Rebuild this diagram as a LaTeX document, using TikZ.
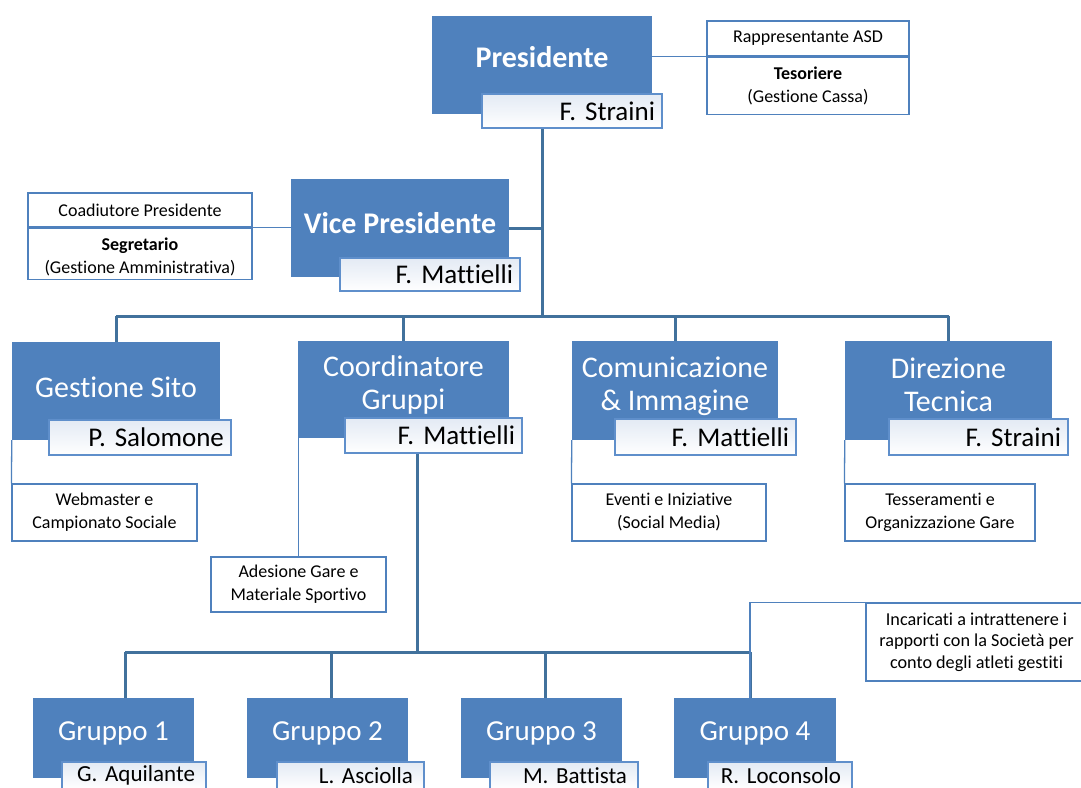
\documentclass[tikz,border=0pt]{standalone}
\usepackage{fontspec}
\setmainfont{Carlito}[Ligatures=NoCommon]
\usetikzlibrary{backgrounds}
\definecolor{boxblue}{HTML}{4F81BD}
\definecolor{linkblue}{HTML}{41719C}
\definecolor{namefill}{HTML}{E3EAF4}
\definecolor{nameline}{HTML}{5F8FCB}
\tikzset{
  box/.style={fill=boxblue, draw=none, inner sep=0pt},
  title/.style={text=white, font=\fontsize{30}{33}\selectfont, align=center, inner sep=0pt},
  btitle/.style={title, font=\fontsize{30}{33}\selectfont\bfseries},
  gtitle/.style={title, font=\fontsize{29}{32}\selectfont},
  namebox/.style={draw=nameline, line width=1.8pt, top color=namefill, bottom color=white,
    inner ysep=0pt, inner xsep=7pt, align=right, font=\fontsize{27}{30}\selectfont},
  gname/.style={namebox, font=\fontsize{23}{26}\selectfont, inner xsep=11pt},
  infobox/.style={draw=boxblue, line width=1.2pt, fill=white, align=center,
    font=\fontsize{18}{23}\selectfont, inner sep=0pt},
  trunk/.style={draw=linkblue, line width=3pt},
  twig/.style={draw=boxblue, line width=1.3pt}
}
\frenchspacing
\begin{document}
\begin{tikzpicture}[x=1pt,y=-1pt]
\clip (0,0) rectangle (1081,787);

% Presidente
\node[box, minimum width=220, minimum height=98] (pres) at (542,65) {};
\node[btitle] (prest) at (542,57) {Presidente};
\node[namebox, text width=166, minimum height=34] (presn) at (572,111) {F. Straini};
\node[infobox, minimum width=202, minimum height=35] (s1a) at (808,38.5) {Rappresentante ASD};
\node[infobox, minimum width=202, minimum height=57, anchor=north, text depth=2pt] (s1b) at (s1a.south) {\textbf{Tesoriere}\\(Gestione Cassa)};

% Vice Presidente
\node[box, minimum width=218, minimum height=98] (vp) at (400,228) {};
\node[btitle] (vpt) at (400,223) {Vice Presidente};
\node[namebox, text width=166, minimum height=33] (vpn) at (430,274.5) {F. Mattielli};
\node[infobox, minimum width=224, minimum height=34] (s2a) at (140,210) {Coadiutore Presidente};
\node[infobox, minimum width=224, minimum height=51, anchor=north, inner ysep=0pt] (s2b) at (s2a.south) {\rule{0pt}{20pt}\textbf{Segretario}\\(Gestione Amministrativa)};

% Level 2
\node[box, minimum width=208, minimum height=98] (gs) at (116,391) {};
\node[title] (gst) at (116,387) {Gestione Sito};
\node[namebox, text width=168, minimum height=35] (gsn) at (140,437.5) {P. Salomone};

\node[box, minimum width=211, minimum height=97] (cg) at (403.5,389.5) {};
\node[title] (cgt) at (403.5,384.5) {Coordinatore\\Gruppi};
\node[namebox, text width=163, minimum height=35] (cgn) at (433.5,435.5) {F. Mattielli};

\node[box, minimum width=206, minimum height=99] (ci) at (675,390.5) {};
\node[title] (cit) at (675,386.5) {Comunicazione\\\& Immagine};
\node[namebox, text width=167, minimum height=36] (cin) at (705.5,437) {F. Mattielli};

\node[box, minimum width=207, minimum height=99] (dt) at (948.5,390.5) {};
\node[title] (dtt) at (948.5,384.5) {Direzione\\Tecnica};
\node[namebox, text width=165, minimum height=36] (dtn) at (978.5,437) {F. Straini};

% Sub boxes
\node[infobox, minimum width=185, minimum height=57] (wm) at (104.5,512.5) {Webmaster e\\Campionato Sociale};
\node[infobox, minimum width=175, minimum height=55] (ag) at (298.5,584.5) {Adesione Gare e\\Materiale Sportivo};
\node[infobox, minimum width=194, minimum height=57] (ei) at (669,512.5) {Eventi e Iniziative\\(Social Media)};
\node[infobox, minimum width=190, minimum height=57] (to) at (940,512.5) {Tesseramenti e\\Organizzazione Gare};

% Groups
\node[box, minimum width=161, minimum height=80] (g1) at (113.5,738) {};
\node[gtitle] (g1t) at (113.5,733) {Gruppo 1};
\node[gname, text width=122, minimum height=27] (g1n) at (134,775.5) {G. Aquilante};
\node[box, minimum width=161, minimum height=80] (g2) at (327.5,738) {};
\node[gtitle] (g2t) at (327.5,733) {Gruppo 2};
\node[gname, text width=125, minimum height=27] (g2n) at (350.5,775.5) {L. Asciolla};
\node[box, minimum width=161, minimum height=80] (g3) at (541.5,738) {};
\node[gtitle] (g3t) at (541.5,733) {Gruppo 3};
\node[gname, text width=126, minimum height=27] (g3n) at (564,775.5) {M. Battista};
\node[box, minimum width=162, minimum height=80] (g4) at (755,738) {};
\node[gtitle] (g4t) at (755,733) {Gruppo 4};
\node[gname, text width=122, minimum height=27] (g4n) at (780,775.5) {R. Loconsolo};

\node[infobox, minimum width=221, minimum height=78, font=\fontsize{18.2}{21.5}\selectfont] (inc) at (976.5,642) {Incaricati a intrattenere i\\rapporti con la Società per\\conto degli atleti gestiti};

% Connectors
\coordinate (hub1) at (542,316);
\coordinate (gj) at (417,652);
\coordinate (d1) at (125,652);
\coordinate (d2) at (331,652);
\coordinate (d3) at (545,652);
\coordinate (d4) at (750,652);
\begin{scope}[on background layer]
  \fill[white] (0,0) rectangle (1081,787);
  \draw[trunk] (pres.center |- presn.south) -- (hub1);
  \draw[trunk] (vp.east) -- (vp.east -| hub1);
  \draw[trunk] (gs.north |- hub1) -- (dt.north |- hub1);
  \draw[trunk] (gs.north |- hub1) -- (gs.north);
  \draw[trunk] (cg.north |- hub1) -- (cg.north);
  \draw[trunk] (ci.north |- hub1) -- (ci.north);
  \draw[trunk] (dt.north |- hub1) -- (dt.north);
  \draw[trunk] (gj |- cgn.south) -- (gj);
  \draw[trunk] (d1) -- (d4);
  \draw[trunk] (d1) -- (d1 |- g1.north);
  \draw[trunk] (d2) -- (d2 |- g2.north);
  \draw[trunk] (d3) -- (d3 |- g3.north);
  \draw[trunk] (d4) -- (d4 |- g4.north);
  \draw[twig] (inc.north west) -| (d4 |- g4.north);
  \draw[twig] (pres.east |- s1a.south) -- (s1a.south west);
  \draw[twig] (s2a.south east) -- (vp.west |- s2a.south);
  \draw[twig] (gs.south west) -- (wm.north west);
  \draw[twig] (ag.north |- cg.south) -- (ag.north);
  \draw[twig] (ci.south west) -- (ei.north west);
  \draw[twig] (dt.south west) -- (to.north west);
\end{scope}
\end{tikzpicture}
\end{document}
